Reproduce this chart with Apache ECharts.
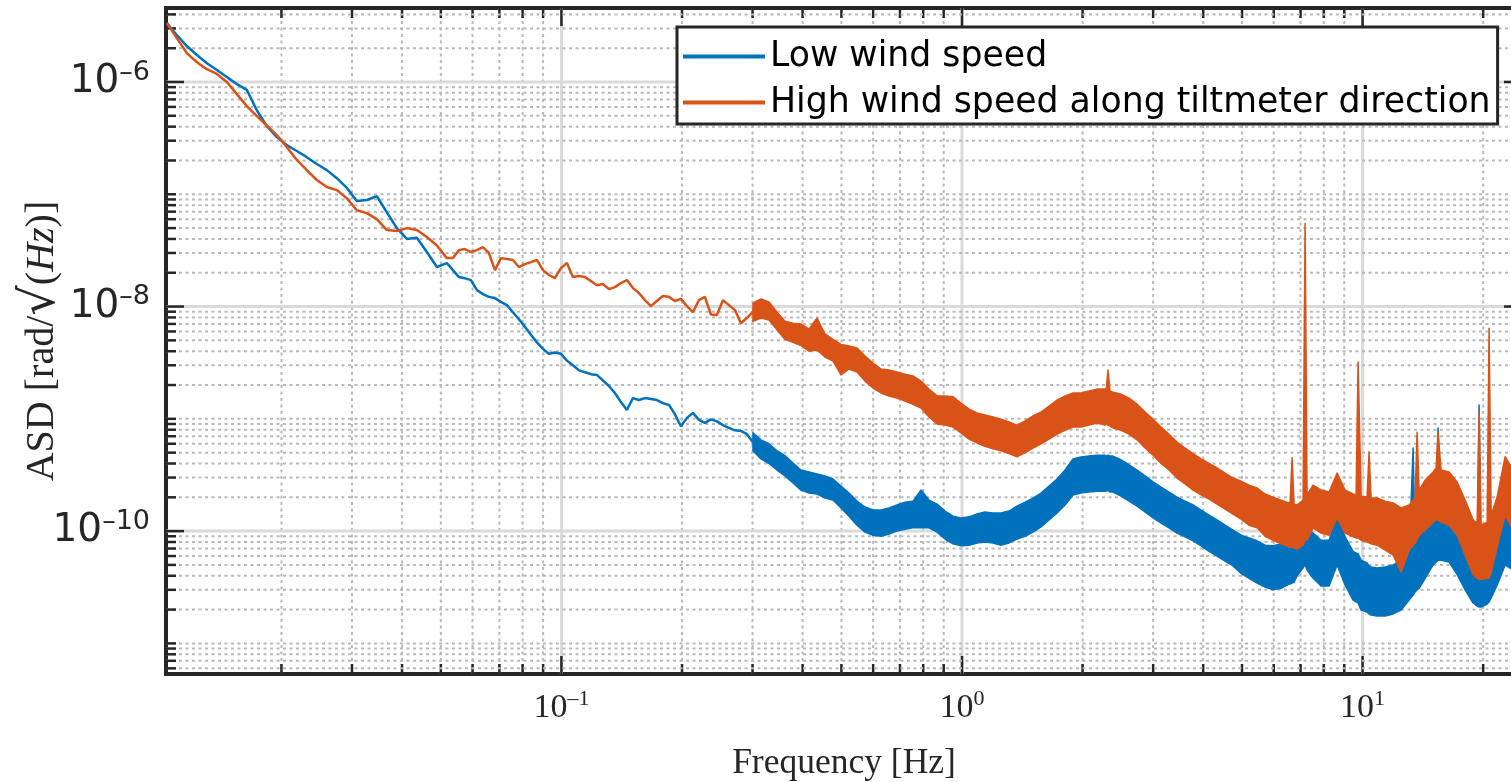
<!DOCTYPE html>
<html>
<head>
<meta charset="utf-8">
<script src="https://cdn.jsdelivr.net/npm/echarts@6/dist/echarts.min.js"></script>
<style>
  html, body { margin: 0; padding: 0; background: #fff; }
  #chart { width: 1511px; height: 782px; }
</style>
</head>
<body>
<div id="chart"></div>
<script>
// axis limits (log axes)
const X_MIN = 0.0103, X_MAX = 25;
const Y_MIN = 5.34e-12, Y_MAX = 4.56e-6;

// labelled decades and the 1..9 sub-divisions used for the dotted grid
const xMajorTicks = [0.1, 1, 10];
const yMajorTicks = [1e-10, 1e-8, 1e-6];
const xDecades = [0.01, 0.1, 1, 10];
const yDecades = [1e-12, 1e-11, 1e-10, 1e-9, 1e-8, 1e-7, 1e-6];
const mantissas = [1, 2, 3, 4, 5, 6, 7, 8, 9];

// low frequencies: both spectra are thin lines
const freqThin = [
  0.01035, 0.01096, 0.01161, 0.01230, 0.01303, 0.01380, 0.01461, 0.01548, 0.01639, 0.01736,
  0.01839, 0.01948, 0.02063, 0.02185, 0.02314, 0.02451, 0.02596, 0.02750, 0.02913, 0.03085,
  0.03268, 0.03461, 0.03666, 0.03883, 0.04113, 0.04356, 0.04614, 0.04887, 0.05176,
  0.05359, 0.05547, 0.05742, 0.05943, 0.06152, 0.06368, 0.06591, 0.06822, 0.07062, 0.07309,
  0.07566, 0.07831, 0.08106, 0.08391, 0.08685, 0.08990, 0.09305, 0.09632, 0.09970, 0.1032,
  0.1068, 0.1106, 0.1145, 0.1185, 0.1226, 0.1269, 0.1314, 0.1360, 0.1408, 0.1457,
  0.1508, 0.1561, 0.1616, 0.1673, 0.1731, 0.1792, 0.1855, 0.1920, 0.1987, 0.2057,
  0.2129, 0.2204, 0.2281, 0.2361, 0.2444, 0.2530, 0.2619, 0.2711, 0.2806, 0.2904,
  0.3007
];
const lowWindThin = [
  3.35e-6, 2.62e-6, 2.09e-6, 1.74e-6, 1.47e-6, 1.28e-6, 1.11e-6, 9.57e-7, 8.5e-7, 5.6e-7,
  4.05e-7, 3.23e-7, 2.74e-7, 2.43e-7, 2.14e-7, 1.86e-7, 1.64e-7, 1.39e-7, 1.14e-7, 8.7e-8,
  8.9e-8, 9.6e-8, 6.9e-8, 5.0e-8, 4.0e-8, 4.1e-8, 3.06e-8, 2.25e-8, 2.44e-8,
  2.11e-8, 1.83e-8, 1.79e-8, 1.72e-8, 1.40e-8, 1.29e-8, 1.22e-8, 1.19e-8, 1.10e-8, 1.03e-8,
  8.9e-9, 7.7e-9, 6.6e-9, 5.6e-9, 4.8e-9, 4.2e-9, 3.8e-9, 3.9e-9, 3.8e-9, 3.3e-9,
  3.0e-9, 2.7e-9, 2.6e-9, 2.5e-9, 2.46e-9, 2.2e-9, 1.96e-9, 1.70e-9, 1.41e-9, 1.2e-9,
  1.53e-9, 1.47e-9, 1.53e-9, 1.50e-9, 1.47e-9, 1.38e-9, 1.33e-9, 1.10e-9, 8.6e-10, 1.02e-9,
  1.13e-9, 9.8e-10, 9.2e-10, 9.9e-10, 9.5e-10, 8.8e-10, 8.3e-10, 7.9e-10, 7.8e-10, 7.3e-10,
  6.2e-10
];
const highWindThin = [
  3.35e-6, 2.46e-6, 1.81e-6, 1.50e-6, 1.30e-6, 1.18e-6, 1.0e-6, 7.8e-7, 6.1e-7, 4.97e-7,
  4.1e-7, 3.37e-7, 2.63e-7, 2.02e-7, 1.64e-7, 1.34e-7, 1.16e-7, 1.09e-7, 9.2e-8, 7.2e-8,
  6.8e-8, 6.0e-8, 4.8e-8, 4.7e-8, 5.0e-8, 4.8e-8, 4.16e-8, 3.5e-8, 2.7e-8,
  2.7e-8, 3.18e-8, 3.25e-8, 3.06e-8, 3.18e-8, 3.39e-8, 3.0e-8, 2.11e-8, 2.7e-8, 2.65e-8,
  2.6e-8, 2.25e-8, 2.39e-8, 2.49e-8, 2.6e-8, 2.11e-8, 1.91e-8, 1.79e-8, 2.2e-8, 2.44e-8,
  1.83e-8, 1.87e-8, 1.83e-8, 1.69e-8, 1.55e-8, 1.59e-8, 1.43e-8, 1.49e-8, 1.62e-8, 1.72e-8,
  1.46e-8, 1.32e-8, 1.14e-8, 1.01e-8, 1.12e-8, 1.24e-8, 1.22e-8, 1.12e-8, 1.17e-8, 1.01e-8,
  8.9e-9, 1.14e-8, 1.22e-8, 8.5e-9, 8.4e-9, 1.14e-8, 1.03e-8, 9.3e-9, 7.1e-9, 7.9e-9,
  9.0e-9
];

// above ~0.3 Hz the spectra are noisy bands: upper and lower edge of each band
const freqBand = [
  0.3007, 0.3149, 0.3297, 0.3452, 0.3615, 0.3785, 0.3963, 0.4149,
  0.4345, 0.4549, 0.4763, 0.4988, 0.5222, 0.5468, 0.5726, 0.5995,
  0.6277, 0.6573, 0.6882, 0.7206, 0.7545, 0.7900, 0.8272, 0.8662,
  0.9069, 0.9496, 0.9943, 1.041, 1.090, 1.141, 1.195, 1.251,
  1.310, 1.372, 1.437, 1.504, 1.575, 1.649, 1.727, 1.808,
  1.893, 1.982, 2.075, 2.173, 2.275, 2.288, 2.314, 2.341,
  2.382, 2.495, 2.612, 2.735, 2.864, 2.999, 3.140, 3.287,
  3.442, 3.604, 3.774, 3.952, 4.138, 4.332, 4.536, 4.750,
  4.973, 5.207, 5.453, 5.709, 5.978, 6.259, 6.554, 6.591,
  6.668, 6.745, 6.862, 7.103, 7.185, 7.268, 7.524, 7.878,
  8.249, 8.637, 9.043, 9.469, 9.633, 9.745, 9.915, 10.26,
  10.38, 10.50, 10.87, 11.38, 11.92, 12.48, 13.07, 13.37,
  13.52, 13.68, 13.84, 14.33, 15.00, 15.26, 15.43, 15.70,
  16.44, 17.22, 18.03, 18.87, 19.32, 19.54, 19.76, 20.46,
  20.69, 20.94, 21.67, 22.69, 23.75, 24.87
];
const lowWindTop = [
  7.5e-10, 6.5e-10, 6.0e-10, 5.2e-10, 4.7e-10, 4.04e-10, 3.5e-10, 3.36e-10,
  3.22e-10, 3.1e-10, 2.91e-10, 2.52e-10, 2.18e-10, 1.85e-10, 1.64e-10, 1.54e-10,
  1.54e-10, 1.61e-10, 1.71e-10, 1.81e-10, 1.85e-10, 2.32e-10, 1.89e-10, 1.74e-10,
  1.51e-10, 1.36e-10, 1.31e-10, 1.34e-10, 1.42e-10, 1.48e-10, 1.45e-10, 1.45e-10,
  1.51e-10, 1.67e-10, 1.81e-10, 1.97e-10, 2.18e-10, 2.52e-10, 2.91e-10, 3.5e-10,
  4.4e-10, 4.57e-10, 4.66e-10, 4.75e-10, 4.75e-10, 4.66e-10, 4.75e-10, 4.66e-10,
  4.66e-10, 4.3e-10, 3.9e-10, 3.5e-10, 3.1e-10, 2.74e-10, 2.47e-10, 2.23e-10,
  2.01e-10, 1.85e-10, 1.71e-10, 1.54e-10, 1.39e-10, 1.26e-10, 1.13e-10, 1.02e-10,
  9.2e-11, 8.7e-11, 8.2e-11, 7.5e-11, 7.4e-11, 7.7e-11, 8.3e-11, 8.3e-11,
  8.3e-11, 8.5e-11, 9.4e-11, 1.07e-10, 2.85e-10, 1.07e-10, 9.6e-11, 8.3e-11,
  8.3e-11, 1.34e-10, 8.9e-11, 6.6e-11, 6.4e-11, 6.3e-11, 5.5e-11, 5.2e-11,
  4.9e-11, 4.8e-11, 4.7e-11, 4.8e-11, 5.0e-11, 5.5e-11, 6.6e-11, 5.5e-10,
  7.5e-11, 8.2e-11, 8.7e-11, 1.07e-10, 1.39e-10, 1.48e-10, 8.3e-10, 1.48e-10,
  1.42e-10, 1.13e-10, 8.3e-11, 6.4e-11, 6.0e-11, 1.33e-9, 5.8e-11, 6.1e-11,
  6.4e-11, 6.8e-11, 9.2e-11, 1.39e-10, 1.26e-10, 1.13e-10
];
const lowWindBottom = [
  5.2e-10, 4.4e-10, 4.0e-10, 3.5e-10, 3.1e-10, 2.68e-10, 2.32e-10, 2.18e-10,
  2.14e-10, 1.97e-10, 1.89e-10, 1.61e-10, 1.36e-10, 1.13e-10, 9.8e-11, 9.2e-11,
  9.0e-11, 9.4e-11, 1.0e-10, 1.04e-10, 1.07e-10, 1.07e-10, 1.07e-10, 9.8e-11,
  8.5e-11, 7.7e-11, 7.4e-11, 7.5e-11, 7.85e-11, 8.0e-11, 7.85e-11, 7.5e-11,
  7.85e-11, 8.5e-11, 9.0e-11, 9.8e-11, 1.09e-10, 1.26e-10, 1.45e-10, 1.71e-10,
  2.10e-10, 2.18e-10, 2.23e-10, 2.27e-10, 2.27e-10, 2.27e-10, 2.32e-10, 2.23e-10,
  2.23e-10, 2.05e-10, 1.85e-10, 1.67e-10, 1.48e-10, 1.31e-10, 1.18e-10, 1.07e-10,
  9.6e-11, 8.9e-11, 8.2e-11, 7.4e-11, 6.6e-11, 6.0e-11, 5.4e-11, 4.9e-11,
  4.2e-11, 3.8e-11, 3.45e-11, 3.18e-11, 3.0e-11, 3.1e-11, 3.38e-11, 3.38e-11,
  3.45e-11, 3.5e-11, 4.0e-11, 4.7e-11, 5.0e-11, 4.5e-11, 3.8e-11, 3.24e-11,
  3.24e-11, 5.0e-11, 3.3e-11, 2.43e-11, 2.34e-11, 2.29e-11, 1.98e-11, 1.90e-11,
  1.83e-11, 1.79e-11, 1.75e-11, 1.75e-11, 1.83e-11, 1.98e-11, 2.43e-11, 2.7e-11,
  2.87e-11, 3.0e-11, 3.1e-11, 3.8e-11, 5.0e-11, 5.3e-11, 5.5e-11, 5.5e-11,
  5.3e-11, 4.1e-11, 3.0e-11, 2.29e-11, 2.15e-11, 2.11e-11, 2.11e-11, 2.24e-11,
  2.34e-11, 2.54e-11, 3.3e-11, 5.0e-11, 4.5e-11, 4.1e-11
];
const highWindTop = [
  1.07e-8, 1.17e-8, 1.10e-8, 8.9e-9, 7.4e-9, 7.1e-9, 7.0e-9, 6.3e-9,
  7.9e-9, 5.7e-9, 5.1e-9, 4.6e-9, 4.45e-9, 4.27e-9, 3.62e-9, 3.14e-9,
  2.78e-9, 2.72e-9, 2.61e-9, 2.50e-9, 2.41e-9, 2.17e-9, 1.84e-9, 1.60e-9,
  1.60e-9, 1.57e-9, 1.38e-9, 1.22e-9, 1.13e-9, 1.08e-9, 1.04e-9, 9.9e-10,
  9.4e-10, 8.8e-10, 9.6e-10, 1.06e-9, 1.15e-9, 1.30e-9, 1.47e-9, 1.60e-9,
  1.70e-9, 1.70e-9, 1.77e-9, 1.84e-9, 1.84e-9, 1.77e-9, 2.72e-9, 1.77e-9,
  1.73e-9, 1.66e-9, 1.53e-9, 1.35e-9, 1.15e-9, 9.9e-10, 8.45e-10, 7.3e-10,
  6.2e-10, 5.5e-10, 4.9e-10, 4.4e-10, 4.0e-10, 3.65e-10, 3.29e-10, 2.97e-10,
  2.79e-10, 2.57e-10, 2.42e-10, 2.14e-10, 2.01e-10, 1.89e-10, 1.78e-10, 1.78e-10,
  4.5e-10, 1.74e-10, 1.71e-10, 1.89e-10, 5.5e-8, 2.10e-10, 2.57e-10, 2.32e-10,
  2.23e-10, 3.29e-10, 2.32e-10, 2.14e-10, 2.10e-10, 3.2e-9, 2.05e-10, 2.01e-10,
  5.1e-10, 1.97e-10, 1.97e-10, 1.85e-10, 1.78e-10, 1.61e-10, 1.71e-10, 1.89e-10,
  1.97e-10, 7.6e-10, 2.32e-10, 2.85e-10, 3.36e-10, 3.65e-10, 7.6e-10, 3.5e-10,
  3.36e-10, 2.74e-10, 1.89e-10, 1.26e-10, 1.18e-10, 1.2e-9, 1.13e-10, 1.2e-10,
  6.4e-9, 1.39e-10, 2.01e-10, 4.6e-10, 3.5e-10, 2.97e-10
];
const highWindBottom = [
  7.4e-9, 7.9e-9, 7.6e-9, 6.2e-9, 5.1e-9, 4.8e-9, 4.5e-9, 4.0e-9,
  4.1e-9, 3.55e-9, 3.27e-9, 2.46e-9, 2.78e-9, 2.61e-9, 2.17e-9, 1.88e-9,
  1.70e-9, 1.60e-9, 1.53e-9, 1.44e-9, 1.35e-9, 1.25e-9, 1.04e-9, 9.0e-10,
  8.8e-10, 8.45e-10, 7.5e-10, 6.6e-10, 6.1e-10, 5.7e-10, 5.4e-10, 5.2e-10,
  4.9e-10, 4.6e-10, 5.0e-10, 5.5e-10, 6.0e-10, 6.6e-10, 7.3e-10, 7.9e-10,
  8.45e-10, 8.45e-10, 8.8e-10, 9.2e-10, 8.8e-10, 9.0e-10, 8.8e-10, 8.6e-10,
  8.3e-10, 7.9e-10, 7.3e-10, 6.5e-10, 5.5e-10, 4.75e-10, 4.0e-10, 3.5e-10,
  2.97e-10, 2.63e-10, 2.32e-10, 2.10e-10, 1.93e-10, 1.74e-10, 1.57e-10, 1.42e-10,
  1.28e-10, 1.13e-10, 1.07e-10, 9.0e-11, 8.3e-11, 7.7e-11, 7.2e-11, 7.2e-11,
  7.2e-11, 7.1e-11, 6.9e-11, 7.5e-11, 8.3e-11, 8.3e-11, 1.07e-10, 9.6e-11,
  9.2e-11, 1.31e-10, 9.6e-11, 8.9e-11, 8.7e-11, 8.7e-11, 8.3e-11, 8.0e-11,
  7.85e-11, 7.7e-11, 7.5e-11, 6.8e-11, 6.1e-11, 4.3e-11, 6.8e-11, 7.5e-11,
  7.85e-11, 8.3e-11, 9.2e-11, 1.02e-10, 1.2e-10, 1.26e-10, 1.26e-10, 1.2e-10,
  1.13e-10, 9.2e-11, 6.1e-11, 4.1e-11, 3.8e-11, 3.7e-11, 3.7e-11, 3.8e-11,
  3.8e-11, 4.3e-11, 7.2e-11, 1.39e-10, 1.02e-10, 9.2e-11
];

const BLUE = '#0072BD';
const ORANGE = '#D95319';
const AXIS_COLOR = '#262626';

// grid line / tick positions: every m x 10^k inside the axis range, flag 1 = labelled decade
const xGridData = [];
xDecades.forEach(d => mantissas.forEach(m => {
  const v = m * d;
  if (v > X_MIN && v < X_MAX) xGridData.push([v, Y_MIN, xMajorTicks.includes(v) ? 1 : 0]);
}));
const yGridData = [];
yDecades.forEach(d => mantissas.forEach(m => {
  const v = m * d;
  if (v > Y_MIN && v < Y_MAX) yGridData.push([X_MIN, v, yMajorTicks.includes(v) ? 1 : 0]);
}));

const majorGridStyle = { stroke: '#dadada', lineWidth: 3 };
const minorGridStyle = { stroke: '#b9b9b9', lineWidth: 2, lineDash: [3, 3.5] };
const tickStyle = { stroke: AXIS_COLOR, lineWidth: 2.5 };

function renderXGrid(params, api) {
  const cs = params.coordSys;
  const x = api.coord([api.value(0), Y_MIN])[0];
  const major = api.value(2) === 1;
  const len = major ? 18 : 10;
  const top = cs.y, bottom = cs.y + cs.height;
  return {
    type: 'group',
    children: [
      { type: 'line', shape: { x1: x, y1: top, x2: x, y2: bottom }, style: major ? majorGridStyle : minorGridStyle },
      { type: 'line', shape: { x1: x, y1: bottom, x2: x, y2: bottom - len }, style: tickStyle },
      { type: 'line', shape: { x1: x, y1: top, x2: x, y2: top + len }, style: tickStyle }
    ]
  };
}

function renderYGrid(params, api) {
  const cs = params.coordSys;
  const y = api.coord([X_MIN, api.value(1)])[1];
  const major = api.value(2) === 1;
  const len = major ? 18 : 10;
  const left = cs.x, right = cs.x + cs.width;
  return {
    type: 'group',
    children: [
      { type: 'line', shape: { x1: left, y1: y, x2: right, y2: y }, style: major ? majorGridStyle : minorGridStyle },
      { type: 'line', shape: { x1: left, y1: y, x2: left + len, y2: y }, style: tickStyle },
      { type: 'line', shape: { x1: right, y1: y, x2: right - len, y2: y }, style: tickStyle }
    ]
  };
}

// filled band between the upper and lower edge, mapped through the axes
function bandSeries(top, bottom, color) {
  return {
    type: 'custom',
    silent: true,
    clip: true,
    data: [[freqBand[0], top[0]]],
    encode: { x: 0, y: 1 },
    renderItem: (params, api) => {
      const pts = freqBand.map((f, i) => api.coord([f, top[i]]));
      for (let i = freqBand.length - 1; i >= 0; i--) {
        pts.push(api.coord([freqBand[i], bottom[i]]));
      }
      return {
        type: 'polygon',
        shape: { points: pts },
        style: { fill: color, stroke: color, lineWidth: 1.5, lineJoin: 'round' }
      };
    }
  };
}

function lineSeries(name, values, color) {
  return {
    name: name,
    type: 'line',
    data: freqThin.map((f, i) => [f, values[i]]),
    showSymbol: false,
    symbol: 'none',
    clip: true,
    lineStyle: { color: color, width: 2.5 },
    itemStyle: { color: color }
  };
}

function powerLabel(v, evenOnly) {
  const l = Math.log10(v);
  const e = Math.round(l);
  if (Math.abs(l - e) > 1e-6) return '';
  if (evenOnly && e % 2 !== 0) return '';
  return '{b|10}{s|' + String(e).replace('-', '\u2013') + '}';
}

const chart = echarts.init(document.getElementById('chart'));

const option = {
  animation: false,
  backgroundColor: '#fff',
  grid: {
    left: 166, top: 8, right: -11, bottom: 108,
    outerBoundsMode: 'none',
    show: true, borderColor: AXIS_COLOR, borderWidth: 4, backgroundColor: '#fff'
  },
  legend: {
    data: ['Low wind speed', 'High wind speed along tiltmeter direction'],
    orient: 'vertical',
    left: 677, top: 27,
    padding: [9, 7, 1, 6],
    itemWidth: 82, itemHeight: 4, itemGap: 5,
    icon: 'rect',
    selectedMode: false,
    borderColor: AXIS_COLOR, borderWidth: 3, backgroundColor: '#fff',
    textStyle: { fontFamily: 'DejaVu Sans', fontSize: 34.7, color: '#000', lineHeight: 41 }
  },
  xAxis: {
    type: 'log', logBase: 10, min: X_MIN, max: X_MAX,
    axisLine: { show: false }, axisTick: { show: false }, splitLine: { show: false },
    axisLabel: {
      margin: 14,
      formatter: v => powerLabel(v, false),
      rich: {
        b: { fontFamily: 'Liberation Serif', fontSize: 34, color: AXIS_COLOR, lineHeight: 40 },
        s: { fontFamily: 'Liberation Serif', fontSize: 22, color: AXIS_COLOR, verticalAlign: 'top', lineHeight: 22 }
      }
    },
    name: 'Frequency [Hz]',
    nameLocation: 'middle',
    nameGap: 72,
    nameMoveOverlap: false,
    nameTextStyle: { fontFamily: 'Liberation Serif', fontSize: 35.5, color: AXIS_COLOR }
  },
  yAxis: {
    type: 'log', logBase: 10, min: Y_MIN, max: Y_MAX, splitNumber: 6,
    axisLine: { show: false }, axisTick: { show: false }, splitLine: { show: false },
    axisLabel: {
      margin: 16,
      formatter: v => powerLabel(v, true),
      rich: {
        b: { fontFamily: 'DejaVu Sans', fontSize: 39, color: AXIS_COLOR, lineHeight: 46 },
        s: { fontFamily: 'DejaVu Sans', fontSize: 27, color: AXIS_COLOR, verticalAlign: 'top', lineHeight: 24 }
      }
    },
    name: '{t|ASD [rad/}{r|\u221A}{t|(}{i|Hz}{t|)]}',
    nameLocation: 'middle',
    nameRotate: 90,
    nameGap: 100,
    nameMoveOverlap: false,
    nameTextStyle: {
      rich: {
        t: { fontFamily: 'Liberation Serif', fontSize: 40, color: AXIS_COLOR },
        i: { fontFamily: 'Liberation Serif', fontStyle: 'italic', fontSize: 40, color: AXIS_COLOR },
        r: { fontFamily: 'DejaVu Serif', fontSize: 48, color: AXIS_COLOR }
      }
    }
  },
  series: [
    { type: 'custom', silent: true, z: 1, data: xGridData, encode: { x: 0, y: 1 }, renderItem: renderXGrid },
    { type: 'custom', silent: true, z: 1, data: yGridData, encode: { x: 0, y: 1 }, renderItem: renderYGrid },
    Object.assign(lineSeries('Low wind speed', lowWindThin, BLUE), { z: 2 }),
    Object.assign(bandSeries(lowWindTop, lowWindBottom, BLUE), { z: 2 }),
    Object.assign(lineSeries('High wind speed along tiltmeter direction', highWindThin, ORANGE), { z: 2 }),
    Object.assign(bandSeries(highWindTop, highWindBottom, ORANGE), { z: 2 })
  ]
};

chart.setOption(option);
</script>
</body>
</html>
